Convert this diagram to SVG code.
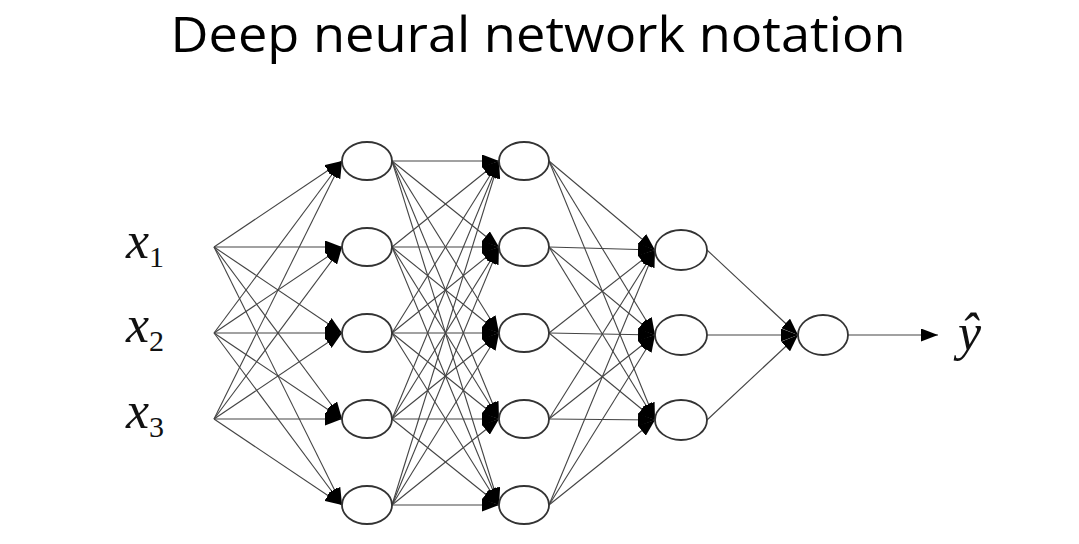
<svg xmlns="http://www.w3.org/2000/svg" width="1079" height="544" viewBox="0 0 1079 544">
<style>
.title{font-family:"Open Sans","Noto Sans",sans-serif;font-size:50px;fill:#000}
.var{font-family:"Liberation Serif",serif;font-style:italic;font-size:52px;fill:#111}
.sub{font-family:"Liberation Serif",serif;font-style:normal;font-size:30px}
.node{fill:#fff;stroke:#333;stroke-width:1.8}
.conn line{stroke:#444;stroke-width:1.1;marker-end:url(#ah)}
</style>
<defs>
<marker id="ah" markerUnits="userSpaceOnUse" markerWidth="17" markerHeight="13" refX="17" refY="6.5" orient="auto">
<path d="M0,0 L17,6.5 L0,13 z" fill="#000"/>
</marker>
</defs>
<rect width="1079" height="544" fill="#fff"/>
<text class="title" x="538" y="52" text-anchor="middle" textLength="735" lengthAdjust="spacingAndGlyphs">Deep neural network notation</text>

<g id="connectors" class="conn">
<!-- inputs to layer 1 -->
<line x1="214" y1="247" x2="342" y2="161"/><line x1="214" y1="247" x2="342" y2="247"/><line x1="214" y1="247" x2="342" y2="333"/><line x1="214" y1="247" x2="342" y2="419"/><line x1="214" y1="247" x2="342" y2="505"/>
<line x1="214" y1="333" x2="342" y2="161"/><line x1="214" y1="333" x2="342" y2="247"/><line x1="214" y1="333" x2="342" y2="333"/><line x1="214" y1="333" x2="342" y2="419"/><line x1="214" y1="333" x2="342" y2="505"/>
<line x1="214" y1="419" x2="342" y2="161"/><line x1="214" y1="419" x2="342" y2="247"/><line x1="214" y1="419" x2="342" y2="333"/><line x1="214" y1="419" x2="342" y2="419"/><line x1="214" y1="419" x2="342" y2="505"/>
<!-- layer 1 to layer 2 -->
<line x1="392" y1="161" x2="499" y2="161"/><line x1="392" y1="161" x2="499" y2="247"/><line x1="392" y1="161" x2="499" y2="333"/><line x1="392" y1="161" x2="499" y2="419"/><line x1="392" y1="161" x2="499" y2="505"/>
<line x1="392" y1="247" x2="499" y2="161"/><line x1="392" y1="247" x2="499" y2="247"/><line x1="392" y1="247" x2="499" y2="333"/><line x1="392" y1="247" x2="499" y2="419"/><line x1="392" y1="247" x2="499" y2="505"/>
<line x1="392" y1="333" x2="499" y2="161"/><line x1="392" y1="333" x2="499" y2="247"/><line x1="392" y1="333" x2="499" y2="333"/><line x1="392" y1="333" x2="499" y2="419"/><line x1="392" y1="333" x2="499" y2="505"/>
<line x1="392" y1="419" x2="499" y2="161"/><line x1="392" y1="419" x2="499" y2="247"/><line x1="392" y1="419" x2="499" y2="333"/><line x1="392" y1="419" x2="499" y2="419"/><line x1="392" y1="419" x2="499" y2="505"/>
<line x1="392" y1="505" x2="499" y2="161"/><line x1="392" y1="505" x2="499" y2="247"/><line x1="392" y1="505" x2="499" y2="333"/><line x1="392" y1="505" x2="499" y2="419"/><line x1="392" y1="505" x2="499" y2="505"/>
<!-- layer 2 to layer 3 -->
<line x1="549" y1="161" x2="655" y2="250"/><line x1="549" y1="161" x2="655" y2="335"/><line x1="549" y1="161" x2="655" y2="420"/>
<line x1="549" y1="247" x2="655" y2="250"/><line x1="549" y1="247" x2="655" y2="335"/><line x1="549" y1="247" x2="655" y2="420"/>
<line x1="549" y1="333" x2="655" y2="250"/><line x1="549" y1="333" x2="655" y2="335"/><line x1="549" y1="333" x2="655" y2="420"/>
<line x1="549" y1="419" x2="655" y2="250"/><line x1="549" y1="419" x2="655" y2="335"/><line x1="549" y1="419" x2="655" y2="420"/>
<line x1="549" y1="505" x2="655" y2="250"/><line x1="549" y1="505" x2="655" y2="335"/><line x1="549" y1="505" x2="655" y2="420"/>
<!-- layer 3 to output -->
<line x1="707" y1="250" x2="798" y2="335"/><line x1="707" y1="335" x2="798" y2="335"/><line x1="707" y1="420" x2="798" y2="335"/>
<!-- output arrow -->
<line x1="848" y1="335" x2="938" y2="335"/>
</g>

<g id="input-x1"><text class="var" x="126" y="258">x<tspan class="sub" dy="9">1</tspan></text></g>
<g id="input-x2"><text class="var" x="126" y="342">x<tspan class="sub" dy="9">2</tspan></text></g>
<g id="input-x3"><text class="var" x="126" y="428">x<tspan class="sub" dy="9">3</tspan></text></g>

<g id="l1n1"><ellipse class="node" cx="367" cy="161" rx="25" ry="19"/></g>
<g id="l1n2"><ellipse class="node" cx="367" cy="247" rx="25" ry="19"/></g>
<g id="l1n3"><ellipse class="node" cx="367" cy="333" rx="25" ry="19"/></g>
<g id="l1n4"><ellipse class="node" cx="367" cy="419" rx="25" ry="19"/></g>
<g id="l1n5"><ellipse class="node" cx="367" cy="505" rx="25" ry="19"/></g>

<g id="l2n1"><ellipse class="node" cx="524" cy="161" rx="25" ry="19"/></g>
<g id="l2n2"><ellipse class="node" cx="524" cy="247" rx="25" ry="19"/></g>
<g id="l2n3"><ellipse class="node" cx="524" cy="333" rx="25" ry="19"/></g>
<g id="l2n4"><ellipse class="node" cx="524" cy="419" rx="25" ry="19"/></g>
<g id="l2n5"><ellipse class="node" cx="524" cy="505" rx="25" ry="19"/></g>

<g id="l3n1"><ellipse class="node" cx="681" cy="250" rx="26" ry="20"/></g>
<g id="l3n2"><ellipse class="node" cx="681" cy="335" rx="26" ry="20"/></g>
<g id="l3n3"><ellipse class="node" cx="681" cy="420" rx="26" ry="20"/></g>

<g id="out"><ellipse class="node" cx="823" cy="335" rx="25" ry="20"/></g>
<g id="yhat"><text class="var" x="958" y="350" font-size="44">ŷ</text></g>
</svg>
